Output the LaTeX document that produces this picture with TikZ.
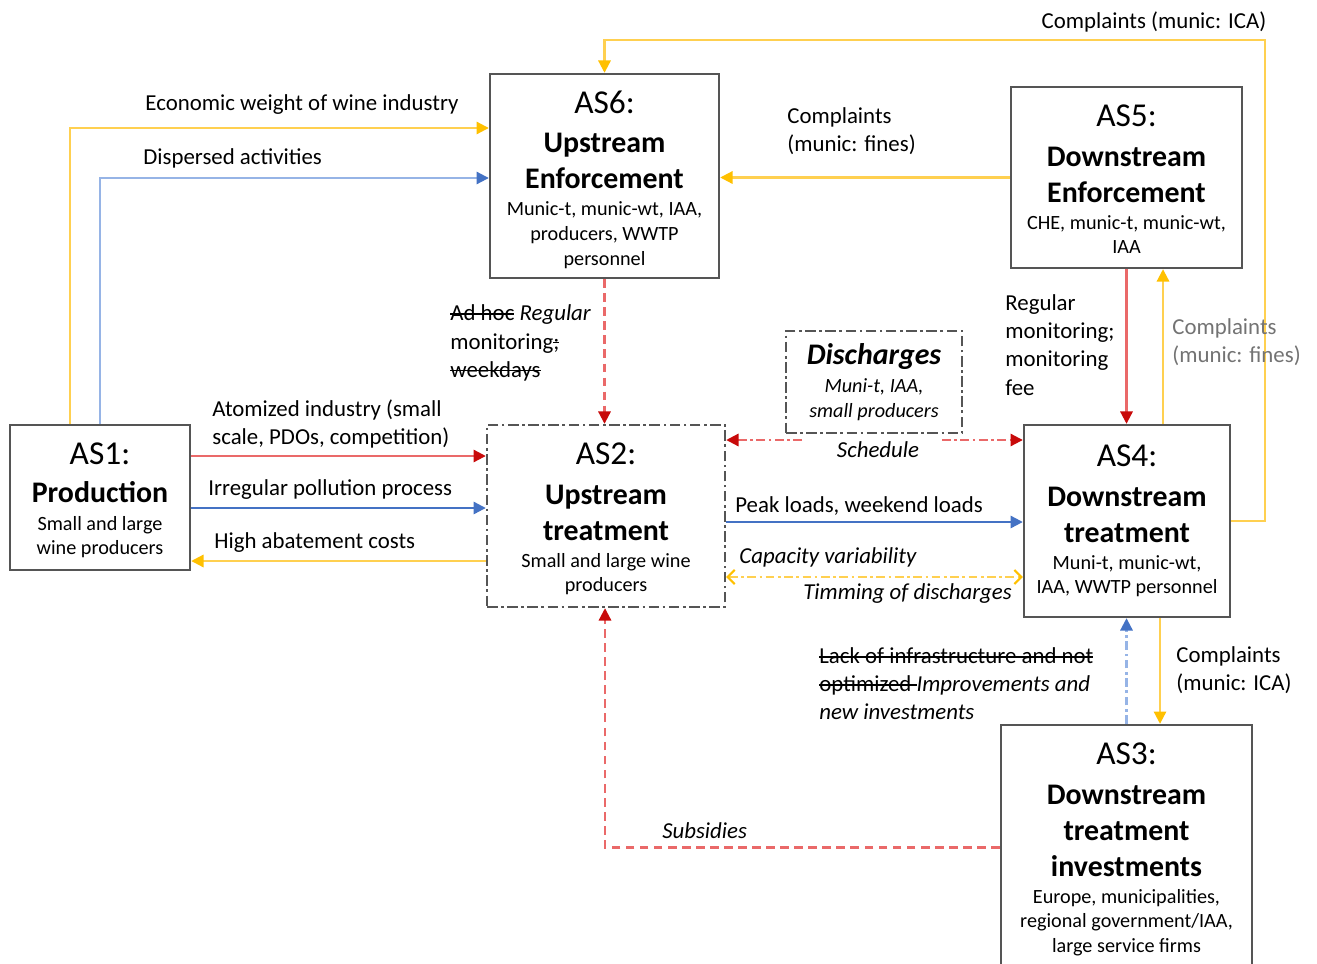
\documentclass[tikz,border=0pt]{standalone}
\usepackage{fontspec}
\setmainfont{Carlito}
\usetikzlibrary{arrows.meta}

\definecolor{redL}{RGB}{234,105,105}
\definecolor{redH}{RGB}{200,10,10}
\definecolor{blueC}{RGB}{68,114,196}
\definecolor{blueL}{RGB}{150,180,230}
\definecolor{yelC}{RGB}{255,192,0}
\definecolor{yelL}{RGB}{255,208,80}
\definecolor{boxgray}{RGB}{85,85,85}
\definecolor{txtgray}{RGB}{115,115,115}

\newcommand{\asno}[2][12pt]{{\fontsize{19}{22}\selectfont\rule{0pt}{#1}#2}}
\newcommand{\astitle}[1]{{\fontsize{17}{20}\selectfont\bfseries\rule[-6.5pt]{0pt}{19.4pt}#1}}
\newcommand{\labfont}{\fontsize{13}{16}\selectfont}
\newcommand{\subfont}{\fontsize{11.5}{14}\selectfont}
\newcommand{\xout}[1]{\leavevmode\setbox0\hbox{#1}\rlap{\rule[0.26em]{\wd0}{0.07em}}\box0\relax}

\tikzset{
    asbox/.style={draw=boxgray, line width=1.4pt, align=center, inner sep=0pt, font=\subfont},
    dashbox/.style={asbox, dash pattern=on 6pt off 2pt on 1.5pt off 2pt},
    lab/.style={font=\labfont, align=left, inner sep=0pt},
    ilab/.style={lab, font=\labfont\itshape},
    rarr/.style={draw=redL, line width=1.2pt, -{Triangle[length=7pt,width=7pt,color=redH]}},
    rdash/.style={rarr, dash pattern=on 5pt off 3pt},
    rdd/.style={rarr, dash pattern=on 5pt off 2pt on 1.5pt off 2pt},
    barr/.style={draw=blueC, line width=1.3pt, -{Triangle[length=7pt,width=7pt]}},
    blarr/.style={draw=blueL, line width=1.2pt, -{Triangle[length=7pt,width=7pt,color=blueC]}},
    bdd/.style={blarr, dash pattern=on 5pt off 2pt on 1.5pt off 2pt},
    yarr/.style={draw=yelL, line width=1.2pt, -{Triangle[length=7pt,width=7pt,color=yelC]}},
    ydd/.style={draw=yelL, line width=1.2pt, dash pattern=on 5pt off 2pt on 1.5pt off 2pt,
        {Straight Barb[length=4pt,width=8pt,color=yelC]}-{Straight Barb[length=4pt,width=8pt,color=yelC]}}
}

\begin{document}
\begin{tikzpicture}[x=0.02cm, y=-0.02cm]
    \useasboundingbox (0,0) rectangle (1317,963);
    \clip (0,0) rectangle (1317,963);

    % action situations
    \node[asbox, minimum width=3.6cm, minimum height=2.9cm] (AS1) at (100,497.5)
        {\asno[15.6pt]{AS1:}\\[7.5pt]\astitle{Production}\\[0.4pt]Small and large\\wine producers};
    \node[asbox, minimum width=4.58cm, minimum height=4.08cm] (AS6) at (604.5,176)
        {\asno[16.7pt]{AS6:}\\[8.7pt]\astitle{Upstream}\\\astitle{Enforcement}\\[0pt]Munic-t, munic-wt, IAA,\\producers, WWTP\\personnel};
    \node[asbox, minimum width=4.62cm, minimum height=3.62cm] (AS5) at (1126.5,177.5)
        {\asno[14.5pt]{AS5:}\\[8.7pt]\astitle{Downstream}\\\astitle{Enforcement}\\[0pt]CHE, munic-t, munic-wt,\\IAA};
    \node[dashbox, minimum width=4.76cm, minimum height=3.64cm] (AS2) at (606,516)
        {\asno[15.6pt]{AS2:}\\[8.7pt]\astitle{Upstream}\\\astitle{treatment}\\[0pt]Small and large wine\\producers};
    \node[dashbox, minimum width=3.52cm, minimum height=2.04cm] (DIS) at (874,382)
        {{\fontsize{17}{20}\selectfont\bfseries\itshape Discharges}\\[2pt]\textit{Muni-t, IAA,}\\\textit{small producers}};
    \node[asbox, minimum width=4.12cm, minimum height=3.84cm] (AS4) at (1127,521)
        {\asno{AS4:}\\[8.7pt]\astitle{Downstream}\\\astitle{treatment}\\[0pt]Muni-t, munic-wt,\\IAA, WWTP personnel};
    \node[asbox, minimum width=5.02cm, minimum height=4.9cm] (AS3) at (1126.5,847.5)
        {\asno[14.5pt]{AS3:}\\[8.7pt]\astitle{Downstream}\\\astitle{treatment}\\\astitle{investments}\\[0pt]Europe, municipalities,\\regional government/IAA,\\large service firms};

    % connectors
    \draw[yarr] (AS1.north -| 70,0) |- (AS6.west |- 0,128);
    \draw[blarr] (AS1.north) |- (AS6.west |- 0,178);
    \draw[rarr] (AS1.east |- 0,456) -- (AS2.west |- 0,456);
    \draw[barr] (AS1.east |- 0,508) -- (AS2.west |- 0,508);
    \draw[yarr] (AS2.west |- 0,561) -- (AS1.east |- 0,561);
    \draw[rdash] (AS6.south) -- (AS2.north -| AS6.south);
    \draw[yarr] (AS5.west) -- (AS6.east |- AS5.west);
    \coordinate (topR) at (1265,40);
    \draw[yarr] (AS4.east) -| (topR) -| (AS6.north);
    \draw[rarr] (AS5.south) -- (AS4.north -| AS5.south);
    \draw[yarr] (AS4.north -| 1163,0) -- (AS5.south -| 1163,0);
    \coordinate (schL) at (802,440);
    \coordinate (schR) at (942,440);
    \draw[rdd] (schL) -- (AS2.east |- schL);
    \draw[rdd] (schR) -- (AS4.west |- schR);
    \draw[barr] (AS2.east |- 0,522) -- (AS4.west |- 0,522);
    \draw[ydd] (AS2.east |- 0,577) -- (AS4.west |- 0,577);
    \draw[bdd] (AS3.north) -- (AS4.south -| AS3.north);
    \draw[yarr] (AS4.south -| 1160,0) -- (AS3.north -| 1160,0);
    \draw[rdash] (AS3.west) -| (AS2.south -| 605,0);

    % labels
    \node[lab] (econ) at (302,105) {Economic weight of wine industry};
    \node[lab, anchor=west] (disp) at (143,158) {Dispersed activities};
    \node[lab, anchor=west] (atom) at (212,424) {Atomized industry (small\\scale, PDOs, competition)};
    \node[lab, anchor=west] (irreg) at (208,490) {Irregular pollution process};
    \node[lab, anchor=west] (abat) at (214,543) {High abatement costs};
    \node[lab, anchor=west] (adhoc) at (450,343) {\xout{Ad hoc} \textit{Regular}\\monitoring\xout{;}\\\xout{weekdays}};
    \node[lab, anchor=west] (fines) at (787,131) {Complaints\\(munic: fines)};
    \node[lab] (icatop) at (1154,22) {Complaints (munic: ICA)};
    \node[lab, anchor=west] (regmon) at (1005,345) {Regular\\monitoring;\\monitoring\\fee};
    \node[lab, anchor=west, text=txtgray] (fines2) at (1172,342) {Complaints\\(munic: fines)};
    \node[ilab] (sched) at (878,450) {Schedule};
    \node[lab, anchor=west] (peak) at (735,506) {Peak loads, weekend loads};
    \node[ilab, anchor=west] (capvar) at (739,557) {Capacity variability};
    \node[ilab, anchor=west] (timing) at (803,594) {Timming of discharges};
    \node[lab, anchor=west] (lack) at (819,684) {\xout{Lack of infrastructure and not}\\\xout{optimized }\textit{Improvements and}\\\textit{new investments}};
    \node[lab, anchor=west] (ica2) at (1176,670) {Complaints\\(munic: ICA)};
    \node[ilab, anchor=west] (subs) at (662,831) {Subsidies};
\end{tikzpicture}
\end{document}
